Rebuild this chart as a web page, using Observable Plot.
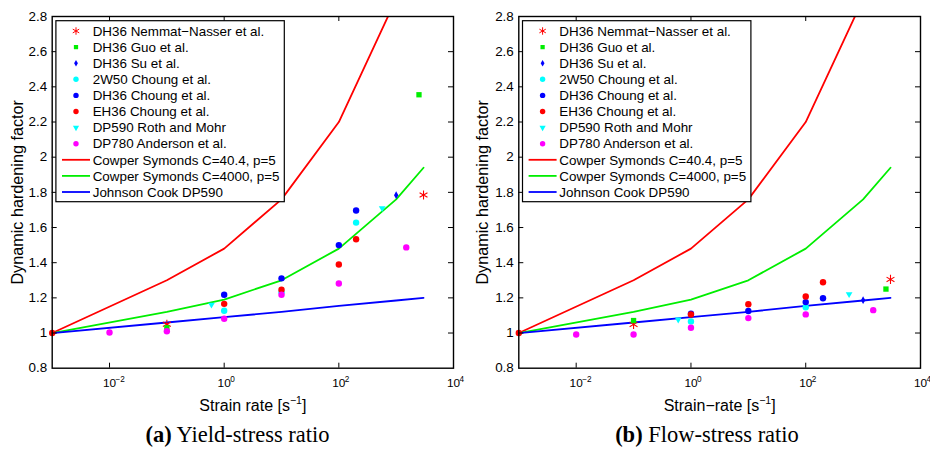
<!DOCTYPE html>
<html><head><meta charset="utf-8">
<script src="https://cdn.jsdelivr.net/npm/d3@7"></script>
<script src="https://cdn.jsdelivr.net/npm/@observablehq/plot@0.6"></script>
<style>
html,body{margin:0;padding:0;background:#fff;}
#wrap{position:relative;width:930px;height:451px;overflow:hidden;background:#fff;}
#wrap > svg{position:absolute;top:0;}
</style></head><body><div id="wrap"></div>
<script>
// ---------- data ----------
const xTickVals = [1e-2, 1, 1e2, 1e4];
const xTickExp = ["\u22122", "0", "2", "4"];
const yTickVals = [0.8, 1.0, 1.2, 1.4, 1.6, 1.8, 2.0, 2.2, 2.4, 2.6, 2.8];

// model curves (same in both panels)
const lineRates = [0.001, 0.1, 1, 10, 100, 1000, 3000];
const csC404 = [1.0, 1.30, 1.48, 1.76, 2.20, 2.90, 3.37];
const csC4000 = [1.0, 1.12, 1.19, 1.30, 1.48, 1.76, 1.94];
const jcDP590 = [1.0, 1.06, 1.09, 1.12, 1.155, 1.185, 1.20];

// (a) yield-stress ratio: [strain rate, factor]
const nematA = [[0.1, 1.05], [3000, 1.785]];
const guoA = [[0.1, 1.03], [2500, 2.355]];
const suA = [[1000, 1.784]];
const w50A = [[1, 1.127], [10, 1.232], [200, 1.628]];
const dh36A = [[1, 1.218], [10, 1.311], [100, 1.50], [200, 1.697]];
const eh36A = [[0.001, 1.0], [1, 1.166], [10, 1.246], [100, 1.39], [200, 1.533]];
const rothA = [[0.6, 1.161], [570, 1.71]];
const andA = [[0.01, 1.003], [0.1, 1.01], [1, 1.081], [10, 1.218], [100, 1.282], [1500, 1.487]];

// (b) flow-stress ratio
const nematB = [[0.1, 1.049], [3000, 1.305]];
const guoB = [[0.1, 1.071], [2500, 1.25]];
const suB = [[1000, 1.187]];
const w50B = [[1, 1.066], [100, 1.147]];
const dh36B = [[1, 1.11], [10, 1.125], [100, 1.176], [200, 1.198]];
const eh36B = [[0.001, 1.0], [1, 1.105], [10, 1.164], [100, 1.208], [200, 1.289]];
const rothB = [[0.6, 1.077], [570, 1.221]];
const andB = [[0.01, 0.992], [0.1, 0.992], [1, 1.03], [10, 1.085], [100, 1.106], [1500, 1.13]];

const legendLabels = [
  "DH36 Nemmat\u2212Nasser et al.", "DH36 Guo et al.", "DH36 Su et al.",
  "2W50 Choung et al.", "DH36 Choung et al.", "EH36 Choung et al.",
  "DP590 Roth and Mohr", "DP780 Anderson et al.",
  "Cowper Symonds C=40.4, p=5", "Cowper Symonds C=4000, p=5", "Johnson Cook DP590"
];

// ---------- drawing ----------
const RED = "#ff0000", GREEN = "#00ee00", BLUE = "#0000ff", CYAN = "#00ffff", MAG = "#ff00ff";
const FONT = "'Liberation Sans', Arial, Helvetica, sans-serif";

function panel(series, xLabel, left, mL, mR) {
  const W = 465, H = 420, mT = 16, mB = 52.3;
  const fw = W - mL - mR, fh = H - mT - mB;
  const px = d => d[0], py = d => d[1];
  const svg = Plot.plot({
    width: W, height: H,
    marginLeft: mL, marginRight: mR, marginTop: mT, marginBottom: mB,
    x: {type: "log", domain: [1e-3, 1e4]},
    y: {domain: [0.8, 2.8]},
    style: {fontFamily: FONT, fontSize: "13px", color: "black", background: "white", overflow: "visible"},
    marks: [
      Plot.line(csC404, {x: lineRates, y: csC404, stroke: RED, strokeWidth: 1.8, clip: true}),
      Plot.line(csC4000, {x: lineRates, y: csC4000, stroke: GREEN, strokeWidth: 1.8, clip: true}),
      Plot.line(jcDP590, {x: lineRates, y: jcDP590, stroke: BLUE, strokeWidth: 1.8, clip: true}),
      Plot.dot(series.nemat, {x: px, y: py, symbol: "asterisk", r: 4.3, stroke: RED, strokeWidth: 1.1, fill: "none"}),
      Plot.dot(series.guo, {x: px, y: py, symbol: "square", r: 3, fill: GREEN, stroke: "none"}),
      Plot.dot(series.su, {x: px, y: py, symbol: "diamond", r: 2.3, fill: BLUE, stroke: "none"}),
      Plot.dot(series.w50, {x: px, y: py, r: 3.2, fill: CYAN, stroke: "none"}),
      Plot.dot(series.dh36, {x: px, y: py, r: 3.2, fill: BLUE, stroke: "none"}),
      Plot.dot(series.eh36, {x: px, y: py, r: 3.2, fill: RED, stroke: "none"}),
      Plot.dot(series.roth, {x: px, y: py, symbol: "triangle", r: 2.5, rotate: 180, fill: CYAN, stroke: "none"}),
      Plot.dot(series.and, {x: px, y: py, r: 3.2, fill: MAG, stroke: "none"}),
      Plot.frame({stroke: "black", strokeWidth: 1.4}),
      Plot.tickY(yTickVals.slice(1, -1), {y: d => d, insetRight: fw - 5, stroke: "black"}),
      Plot.tickY(yTickVals.slice(1, -1), {y: d => d, insetLeft: fw - 5, stroke: "black"}),
      Plot.tickX(xTickVals.slice(0, -1), {x: d => d, insetTop: fh - 5, stroke: "black"}),
      Plot.tickX(xTickVals.slice(0, -1), {x: d => d, insetBottom: fh - 5, stroke: "black"}),
      Plot.axisY(yTickVals, {tickSize: 0, tickPadding: 5, fontSize: 13.4, label: null,
        tickFormat: d => String(Math.round(d * 10) / 10)}),
      Plot.axisX(xTickVals, {tickSize: 0, tickPadding: 10, fontSize: 11.8, label: null, tickFormat: () => "10"}),
      Plot.text(xTickVals, {x: d => d, frameAnchor: "bottom", text: (d, i) => xTickExp[i],
        dx: 6, dy: 13.5, textAnchor: "start", lineAnchor: "bottom", fontSize: 8.2}),
      Plot.text(["Dynamic hardening factor"], {frameAnchor: "left", dx: -(mL - 22.5), rotate: -90,
        textAnchor: "middle", lineAnchor: "bottom", fontSize: 16.2}),
      Plot.text([xLabel], {frameAnchor: "bottom", dy: 42.3, lineAnchor: "bottom", fontSize: 16})
    ]
  });
  // superscript in x label
  d3.select(svg).selectAll("text").filter(function () { return this.textContent === xLabel; })
    .each(function () {
      const base = xLabel.replace("[s\u22121]", "[s");
      const t = d3.select(this);
      t.text(base);
      t.append("tspan").attr("dy", -6.5).attr("font-size", 10.5).text("\u22121");
      t.append("tspan").attr("dy", 6.5).text("]");
    });

  // legend (inside, top-left)
  const g = d3.select(svg).append("g").attr("font-family", FONT).attr("font-size", 13.4)
    .attr("text-anchor", "start");
  const bx = mL + 4.2, by = 20.7, bw = 228.4, bh = 181;
  g.append("rect").attr("x", bx).attr("y", by).attr("width", bw).attr("height", bh)
    .attr("fill", "white").attr("stroke", "black").attr("stroke-width", 1.2);
  const mx = mL + 24.3, tx = mL + 41, rowY = i => 31 + i * 16.1;
  const sym = (type, r) => d3.symbol(type, Math.PI * r * r)();
  const legendSyms = [
    {path: sym(d3.symbolAsterisk, 3.5), fill: "none", stroke: RED},
    {path: sym(d3.symbolSquare, 2.4), fill: GREEN},
    {path: sym(d3.symbolDiamond, 2.0), fill: BLUE},
    {path: sym(d3.symbolCircle, 2.7), fill: CYAN},
    {path: sym(d3.symbolCircle, 2.7), fill: BLUE},
    {path: sym(d3.symbolCircle, 2.7), fill: RED},
    {path: sym(d3.symbolTriangle, 2.3), fill: CYAN, rot: 180},
    {path: sym(d3.symbolCircle, 2.7), fill: MAG}
  ];
  legendSyms.forEach((s, i) => {
    g.append("path").attr("d", s.path)
      .attr("transform", `translate(${mx},${rowY(i)})` + (s.rot ? ` rotate(${s.rot})` : ""))
      .attr("fill", s.fill).attr("stroke", s.stroke || "none");
  });
  [RED, GREEN, BLUE].forEach((c, j) => {
    const y = rowY(8 + j);
    g.append("line").attr("x1", mL + 10.3).attr("x2", mL + 38.3).attr("y1", y).attr("y2", y)
      .attr("stroke", c).attr("stroke-width", 1.8);
  });
  legendLabels.forEach((t, i) => {
    g.append("text").attr("x", tx).attr("y", rowY(i) + 4.7).attr("text-anchor", "start").text(t);
  });

  svg.style.left = left + "px";
  return svg;
}

const wrap = document.getElementById("wrap");
wrap.appendChild(panel({nemat: nematA, guo: guoA, su: suA, w50: w50A, dh36: dh36A, eh36: eh36A, roth: rothA, and: andA},
  "Strain rate [s\u22121]", 0, 51.7, 12));
wrap.appendChild(panel({nemat: nematB, guo: guoB, su: suB, w50: w50B, dh36: dh36B, eh36: eh36B, roth: rothB, and: andB},
  "Strain\u2212rate [s\u22121]", 465, 53.3, 10));

// sub-figure captions
const cap = d3.select(wrap).append("svg").attr("width", 930).attr("height", 451)
  .style("left", "0px").style("pointer-events", "none");
[["(a)", " Yield-stress ratio", 237.5], ["(b)", " Flow-stress ratio", 707]].forEach(([a, b, x]) => {
  const t = cap.append("text").attr("x", x).attr("y", 442).attr("text-anchor", "middle")
    .attr("font-family", "'Liberation Serif', 'Times New Roman', serif").attr("font-size", 22.5);
  t.append("tspan").attr("font-weight", "bold").text(a);
  t.append("tspan").text(b);
});
</script></body></html>
